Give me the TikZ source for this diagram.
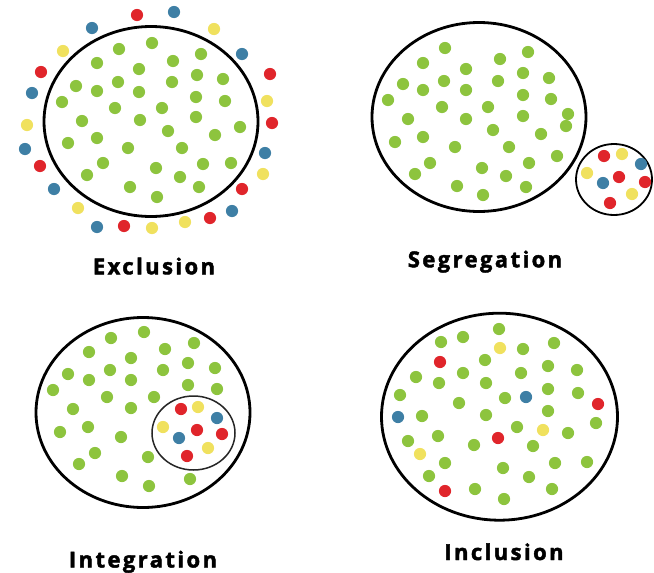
\documentclass[tikz,border=0pt]{standalone}
\usepackage{fontspec}
\newfontfamily\labfont[LetterSpace=11,FakeBold=2]{Open Sans}
\definecolor{dgreen}{HTML}{8DC43E}
\definecolor{dred}{HTML}{E0252B}
\definecolor{dblue}{HTML}{3E7FA5}
\definecolor{dyellow}{HTML}{F0E15E}
\tikzset{
  bigring/.style={draw=black, line width=2.8pt},
  smallring/.style={draw=black, line width=1.8pt},
  thinring/.style={draw=black!85, line width=1.5pt},
  lab/.style={font=\labfont\bfseries\fontsize{22}{26}\selectfont, text=black, inner sep=0pt, anchor=base},
}
\newcommand{\dotsof}[2]{\foreach \p in {#2} \fill[#1] \p circle (6.1);}
\begin{document}
\begin{tikzpicture}[x=1pt,y=-1pt]
\useasboundingbox[fill=white] (0,0) rectangle (654,573);

% ---------- Exclusion ----------
\draw[bigring] (151,121.5) ellipse (107 and 95);
\dotsof{dgreen}{(152,43),(119,49),(201,54),(97,63),(173,61),(139,69),(197,75),(76,86),(118,82),(172,82),(223,79),(97,91),(139,92),(62,102),(196,97),(225,101),(115,108),(162,108),(82,121),(140,120),(196,117),(240,127),(168,131),(215,135),(68,143),(97,138),(128,148),(182,148),(103,163),(156,168),(203,164),(231,163),(87,175),(180,177),(130,187),(199,187),(157,197)}
\dotsof{dred}{(137,15),(41,72),(270,74),(272,123),(40,166),(242,189),(210,218),(124,226)}
\dotsof{dblue}{(174,12),(92,28),(242,54),(32,93),(25,149),(265,153),(54,189),(232,211),(97,227)}
\dotsof{dyellow}{(214,29),(63,51),(267,101),(27,125),(263,174),(78,208),(185,222),(152,228)}
\node[lab] (exlab) at (154,274.3) {Exclusion};

% ---------- Segregation ----------
\draw[bigring] (479,117) ellipse (107 and 94.5);
\draw[smallring] (614,179.5) ellipse (38 and 35.5);
\dotsof{dgreen}{(445,48),(528,52),(500,59),(423,63),(466,69),(523,73),(403,84),(444,81),(498,81),(549,78),(423,90),(466,90),(523,95),(388,100),(551,99),(442,107),(488,107),(568,114),(523,116),(566,126),(408,119),(466,119),(493,130),(541,134),(395,142),(423,137),(455,147),(509,147),(557,156),(430,163),(529,163),(482,168),(415,174),(506,176),(457,186),(526,187),(483,195)}
\dotsof{dred}{(604,156),(619,177),(645,182),(610,203)}
\dotsof{dblue}{(641,164),(603,183)}
\dotsof{dyellow}{(622,154),(587,173),(632,194)}
\node[lab] (seglab) at (485,267.3) {Segregation};

% ---------- Integration ----------
\draw[bigring] (143,412.5) ellipse (107 and 95);
\draw[thinring] (193.5,433) ellipse (41.5 and 37);
\dotsof{dgreen}{(144,332),(111,338),(194,343),(89,352),(165,349),(131,358),(188,363),(68,374),(110,370),(163,370),(215,368),(89,380),(131,380),(188,385),(53,390),(217,389),(107,397),(154,397),(73,409),(131,408),(60,432),(88,427),(121,437),(95,453),(148,457),(79,464),(122,476),(190,479),(149,486)}
\dotsof{dred}{(181,409),(197,430),(222,434),(187,456)}
\dotsof{dblue}{(217,418),(179,438)}
\dotsof{dyellow}{(198,407),(163,427),(208,448)}
\node[lab] (intlab) at (143,567.5) {Integration};

% ---------- Inclusion ----------
\draw[bigring] (499.5,416.7) ellipse (118 and 103.5);
\dotsof{dgreen}{(499,329),(441,342),(463,337),(523,349),(554,343),(485,360),(548,366),(577,370),(463,373),(521,373),(416,377),(439,383),(486,383),(548,389),(578,393),(400,395),(459,403),(505,398),(422,416),(486,415),(548,411),(596,423),(517,427),(568,433),(408,441),(438,436),(474,445),(533,446),(445,463),(503,468),(555,463),(587,462),(429,476),(529,477),(475,489),(552,489),(504,499)}
\dotsof{dred}{(440,362),(598,404),(498,438),(445,491)}
\dotsof{dblue}{(526,397),(398,417)}
\dotsof{dyellow}{(500,348),(543,430),(420,454)}
\node[lab] (inclab) at (504,560) {Inclusion};
\end{tikzpicture}
\end{document}
